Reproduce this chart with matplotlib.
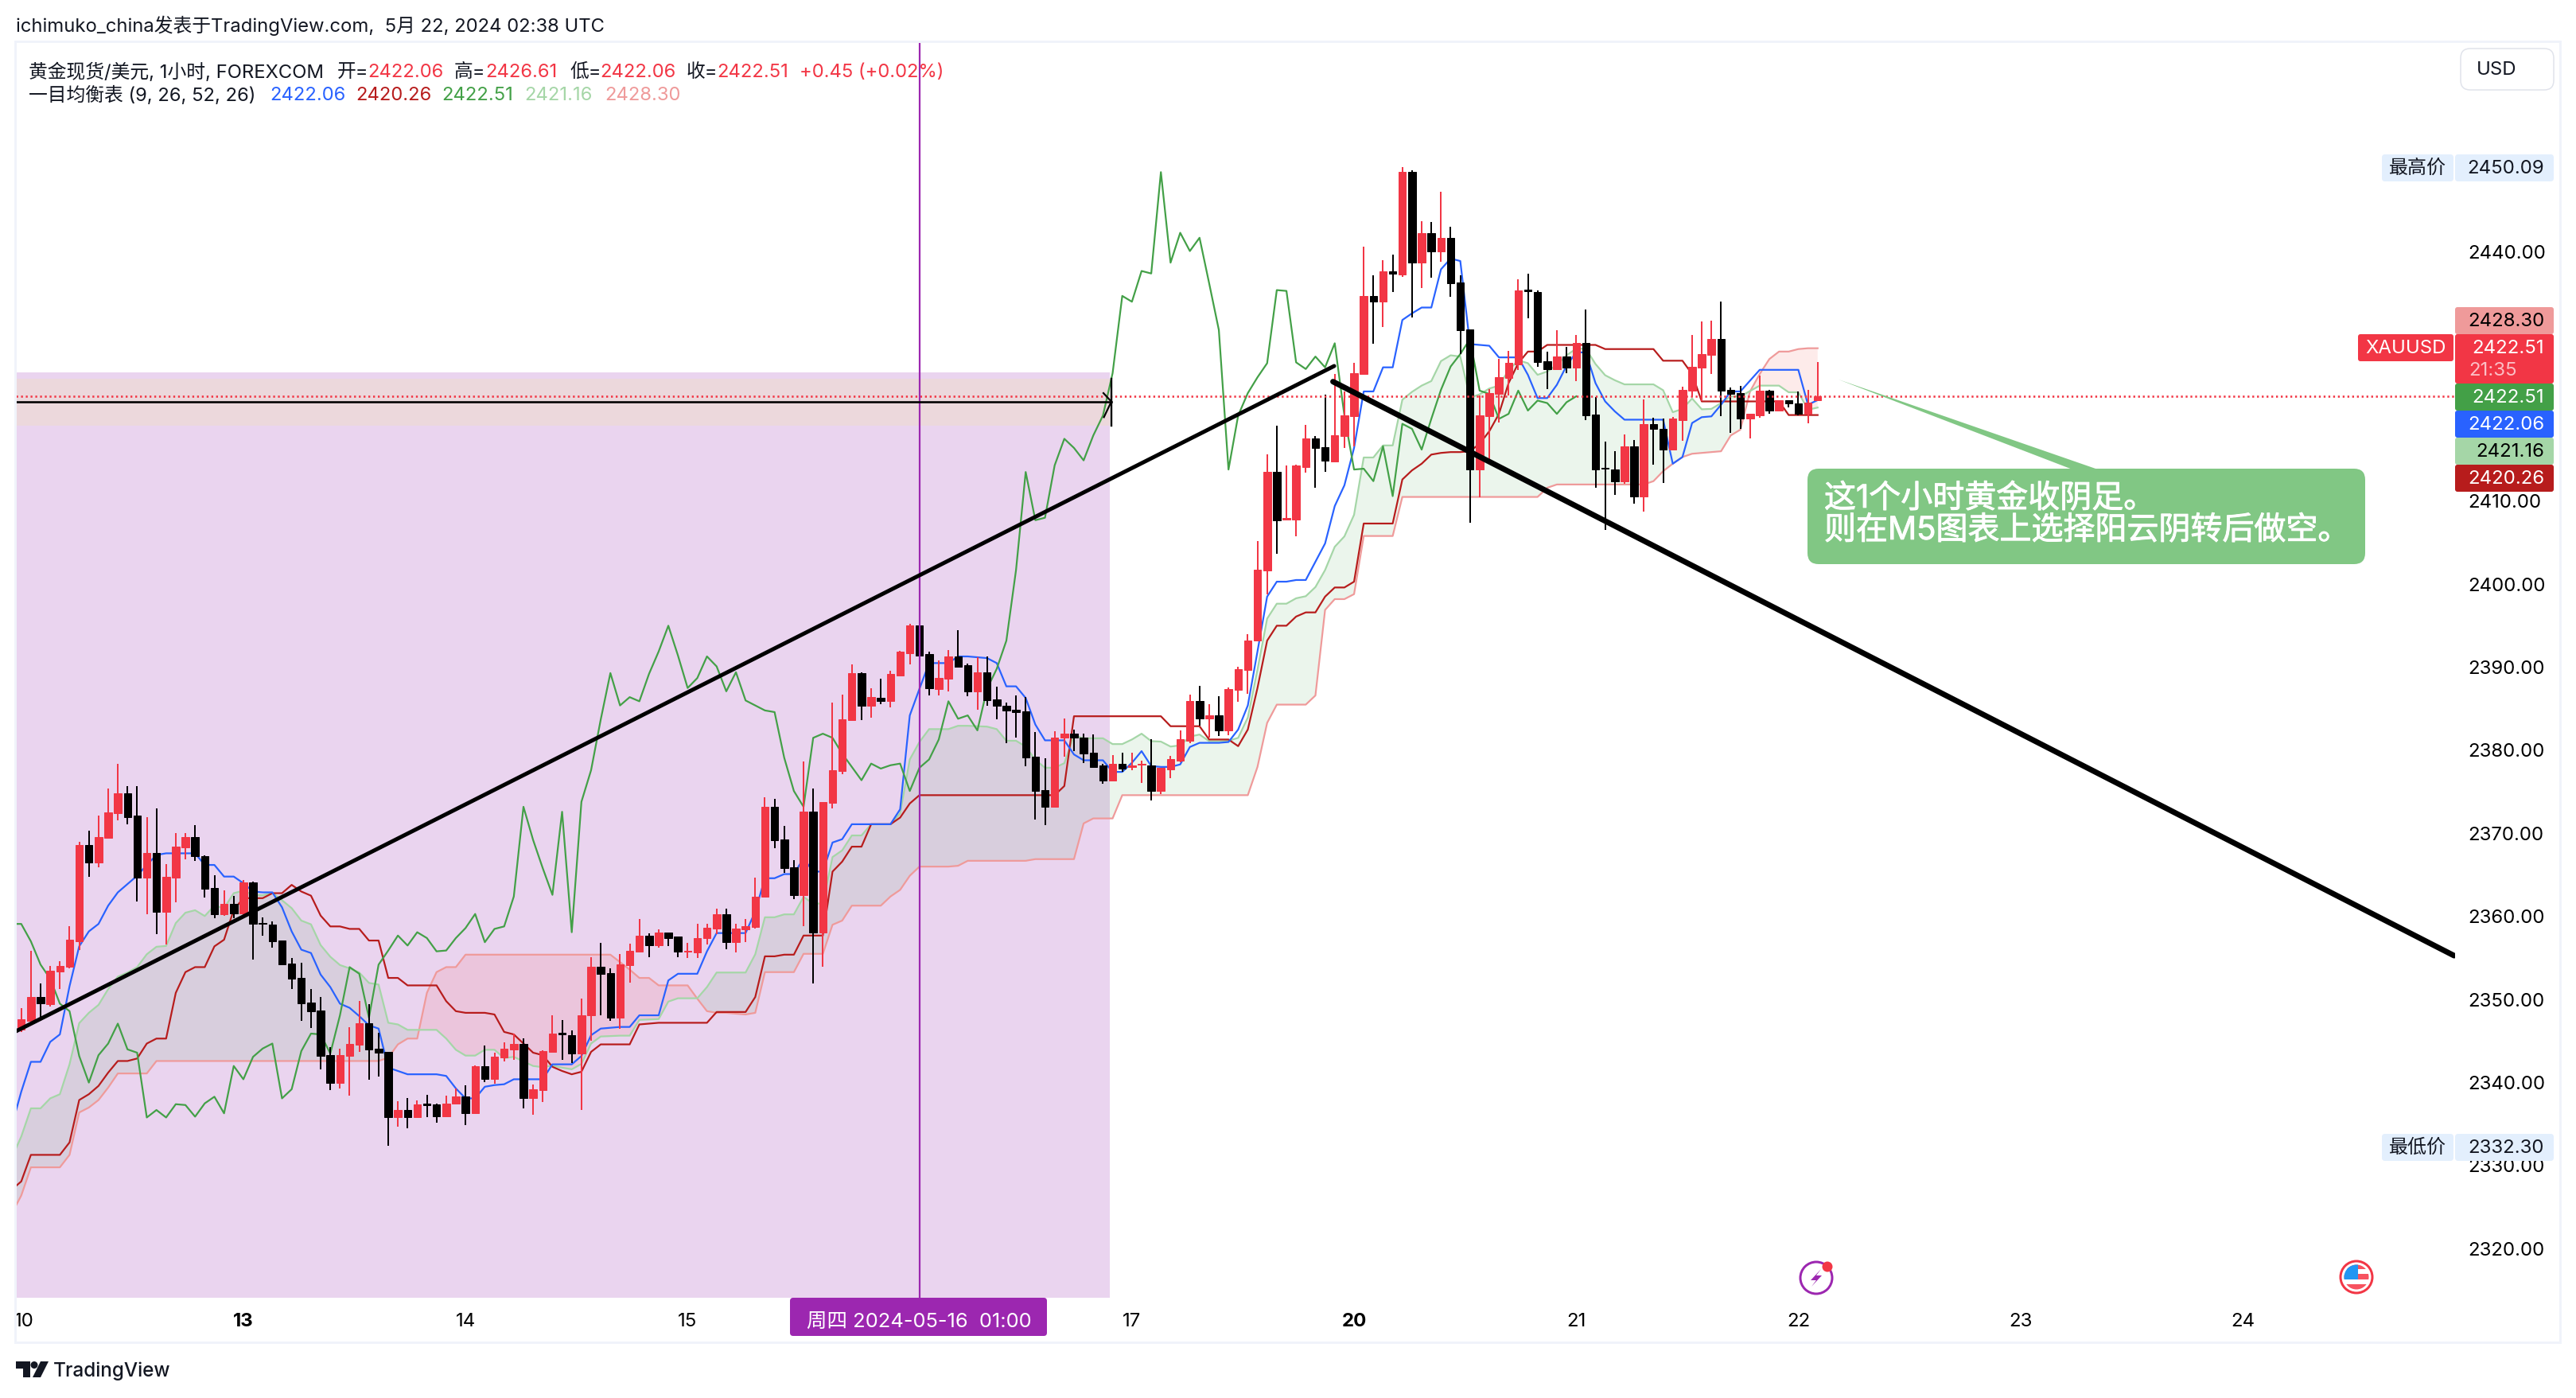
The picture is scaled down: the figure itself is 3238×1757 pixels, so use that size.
import numpy as np
import matplotlib
matplotlib.use('Agg')
import matplotlib.pyplot as plt
import matplotlib.patheffects as pe
from matplotlib.patches import Rectangle, FancyBboxPatch, Polygon, Circle

plt.rcParams['font.family'] = ['Inter', 'Noto Sans CJK SC', 'DejaVu Sans']

# hourly candles of XAUUSD, bar 0 is the first bar of the 10th
OPEN = [2346.3, 2347.3, 2350.2, 2349.3, 2353.3, 2353.8, 2356.9, 2368.5, 2366.4, 2369.4,
        2372.3, 2374.7, 2372.0, 2364.6, 2367.5, 2360.5, 2364.6, 2368.2, 2369.5, 2367.2,
        2363.3, 2360.2, 2361.4, 2360.3, 2364.0, 2359.1, 2358.9, 2357.0, 2354.2, 2352.5,
        2349.5, 2348.6, 2343.2, 2339.9, 2343.1, 2344.5, 2347.0, 2344.0, 2343.6, 2335.7,
        2336.6, 2335.7, 2337.4, 2337.3, 2335.8, 2337.4, 2338.2, 2336.2, 2341.9, 2340.3,
        2342.9, 2343.9, 2344.6, 2338.0, 2339.0, 2343.6, 2345.9, 2345.6, 2343.4, 2348.0,
        2353.8, 2353.1, 2347.7, 2354.0, 2355.7, 2357.6, 2356.4, 2358.0, 2357.5, 2355.7,
        2355.6, 2357.3, 2358.4, 2360.2, 2356.8, 2358.3, 2358.6, 2362.3, 2373.1, 2369.2,
        2365.8, 2362.5, 2372.5, 2358.0, 2373.6, 2377.4, 2383.5, 2389.2, 2385.3, 2386.2,
        2385.8, 2388.9, 2391.6, 2394.9, 2391.5, 2387.3, 2388.5, 2391.2, 2390.1, 2387.0,
        2389.3, 2386.0, 2385.3, 2384.8, 2384.6, 2379.1, 2375.1, 2373.1, 2381.4, 2381.9,
        2381.4, 2379.6, 2378.1, 2376.3, 2378.3, 2377.9, 2378.2, 2378.1, 2375.0, 2377.6,
        2378.7, 2381.0, 2385.8, 2383.7, 2384.1, 2382.3, 2387.2, 2389.6, 2393.1, 2401.5,
        2413.4, 2407.7, 2407.7, 2414.0, 2417.4, 2416.4, 2414.7, 2417.7, 2420.1, 2425.2,
        2434.6, 2433.9, 2437.6, 2437.2, 2449.5, 2438.6, 2442.2, 2440.0, 2441.6, 2436.2,
        2430.6, 2413.7, 2420.1, 2422.8, 2424.7, 2426.4, 2435.4, 2435.1, 2426.7, 2425.8,
        2427.3, 2426.0, 2428.9, 2420.3, 2413.9, 2413.7, 2412.3, 2416.5, 2410.5, 2419.2,
        2418.6, 2416.1, 2419.6, 2423.2, 2426.0, 2427.5, 2429.4, 2423.3, 2422.9, 2419.8,
        2420.2, 2423.2, 2420.8, 2422.0, 2421.7, 2420.4, 2422.06]
HIGH = [2348.9, 2355.8, 2351.8, 2353.9, 2354.5, 2358.7, 2368.9, 2370.2, 2372.0, 2375.3,
        2378.3, 2375.6, 2375.6, 2371.9, 2372.9, 2366.2, 2369.9, 2369.9, 2370.9, 2367.3,
        2364.9, 2363.0, 2362.4, 2364.3, 2364.1, 2359.8, 2359.3, 2357.0, 2354.9, 2354.3,
        2351.2, 2350.2, 2344.2, 2344.0, 2346.6, 2349.7, 2349.3, 2345.9, 2343.6, 2337.7,
        2338.0, 2337.8, 2338.4, 2337.4, 2338.3, 2339.2, 2339.6, 2342.0, 2344.4, 2343.5,
        2344.7, 2345.8, 2345.2, 2339.7, 2343.8, 2348.0, 2347.4, 2346.2, 2350.0, 2355.0,
        2356.7, 2353.7, 2355.4, 2356.6, 2359.6, 2357.9, 2358.3, 2358.0, 2357.5, 2356.7,
        2359.0, 2359.0, 2360.8, 2360.8, 2359.0, 2359.6, 2364.6, 2374.2, 2374.1, 2370.8,
        2366.7, 2378.6, 2375.3, 2373.7, 2385.6, 2386.6, 2390.2, 2389.3, 2387.4, 2388.5,
        2389.5, 2391.9, 2395.1, 2397.2, 2391.8, 2390.7, 2392.0, 2394.4, 2390.3, 2391.1,
        2391.2, 2387.6, 2385.6, 2386.5, 2386.3, 2382.1, 2378.9, 2382.2, 2383.7, 2382.4,
        2381.9, 2381.8, 2378.3, 2379.3, 2379.6, 2379.6, 2378.7, 2381.2, 2377.8, 2379.2,
        2382.3, 2386.6, 2387.7, 2385.5, 2386.4, 2387.5, 2390.0, 2393.9, 2405.1, 2415.5,
        2419.0, 2414.2, 2414.3, 2419.1, 2417.7, 2422.7, 2425.2, 2423.1, 2426.5, 2440.5,
        2437.1, 2438.9, 2439.6, 2450.09, 2449.7, 2443.6, 2443.5, 2447.1, 2442.9, 2437.1,
        2430.6, 2422.6, 2423.4, 2427.0, 2428.0, 2436.6, 2437.3, 2435.3, 2427.9, 2430.5,
        2428.5, 2429.9, 2433.0, 2422.4, 2417.1, 2415.9, 2417.9, 2417.3, 2422.1, 2419.9,
        2419.8, 2420.0, 2423.7, 2429.9, 2431.5, 2431.6, 2433.9, 2423.6, 2423.8, 2420.4,
        2425.0, 2423.3, 2422.0, 2422.0, 2423.1, 2423.3, 2426.61]
LOW = [2346.0, 2347.2, 2347.3, 2349.1, 2351.2, 2353.7, 2355.9, 2364.7, 2365.8, 2369.4,
       2371.5, 2371.0, 2361.7, 2360.2, 2357.8, 2356.5, 2361.6, 2366.8, 2366.6, 2362.2,
       2359.7, 2360.0, 2359.7, 2359.8, 2354.7, 2357.6, 2356.1, 2354.1, 2351.2, 2347.3,
       2346.5, 2341.5, 2339.0, 2339.2, 2338.3, 2343.6, 2340.2, 2340.6, 2332.3, 2334.6,
       2334.4, 2335.6, 2335.7, 2335.1, 2335.7, 2337.3, 2334.8, 2336.2, 2340.0, 2339.8,
       2342.4, 2342.6, 2336.8, 2336.0, 2337.6, 2343.6, 2342.6, 2342.3, 2336.6, 2344.9,
       2348.0, 2347.3, 2346.4, 2351.9, 2355.6, 2355.0, 2356.1, 2356.3, 2355.0, 2354.9,
       2354.9, 2356.5, 2357.8, 2356.0, 2355.6, 2356.8, 2358.4, 2362.3, 2368.1, 2365.1,
       2362.0, 2358.7, 2351.8, 2353.8, 2372.9, 2377.0, 2383.5, 2383.5, 2383.8, 2385.5,
       2385.1, 2388.9, 2390.2, 2389.5, 2386.5, 2386.5, 2387.0, 2390.0, 2386.4, 2384.8,
       2385.3, 2383.6, 2380.8, 2381.4, 2378.0, 2371.6, 2370.9, 2373.1, 2379.1, 2379.8,
       2378.4, 2377.8, 2375.9, 2376.3, 2377.3, 2377.5, 2376.0, 2373.9, 2374.6, 2376.5,
       2378.5, 2380.8, 2382.9, 2381.4, 2381.6, 2381.7, 2385.7, 2386.7, 2393.1, 2398.7,
       2403.6, 2407.7, 2405.7, 2413.3, 2411.5, 2413.4, 2414.7, 2416.3, 2416.5, 2425.2,
       2428.8, 2430.9, 2435.1, 2436.9, 2432.0, 2435.5, 2436.8, 2438.7, 2434.5, 2427.6,
       2407.3, 2410.4, 2414.7, 2419.4, 2422.6, 2425.7, 2431.9, 2426.1, 2423.4, 2425.8,
       2425.3, 2424.3, 2419.6, 2411.5, 2406.4, 2410.6, 2412.0, 2409.6, 2408.6, 2414.3,
       2412.1, 2416.1, 2417.2, 2422.4, 2421.9, 2425.2, 2420.1, 2418.1, 2418.6, 2417.4,
       2419.9, 2420.4, 2420.7, 2421.2, 2420.2, 2419.3, 2422.06]
CLOSE = [2347.5, 2350.2, 2349.4, 2353.4, 2353.9, 2357.1, 2368.5, 2366.4, 2369.5, 2372.4,
         2374.7, 2371.9, 2364.6, 2367.5, 2360.5, 2364.7, 2368.3, 2369.5, 2367.2, 2363.2,
         2360.2, 2361.4, 2360.3, 2364.0, 2359.0, 2359.0, 2356.9, 2354.1, 2352.4, 2349.4,
         2348.5, 2343.1, 2339.9, 2343.2, 2344.6, 2347.0, 2343.9, 2343.5, 2335.7, 2336.6,
         2335.7, 2337.3, 2337.2, 2335.8, 2337.4, 2338.2, 2336.2, 2341.9, 2340.3, 2343.0,
         2344.0, 2344.6, 2338.0, 2339.1, 2343.7, 2345.8, 2345.7, 2343.4, 2348.0, 2353.8,
         2353.0, 2347.7, 2354.1, 2355.8, 2357.6, 2356.4, 2358.0, 2357.3, 2355.7, 2355.8,
         2357.3, 2358.5, 2360.2, 2356.8, 2358.4, 2358.7, 2362.3, 2373.1, 2369.1, 2365.7,
         2362.5, 2372.5, 2358.0, 2373.7, 2377.5, 2383.6, 2389.2, 2385.3, 2386.3, 2385.8,
         2389.1, 2391.8, 2394.9, 2391.3, 2387.4, 2388.6, 2391.2, 2390.0, 2387.0, 2389.3,
         2385.9, 2385.3, 2384.7, 2384.5, 2379.0, 2375.0, 2373.1, 2381.4, 2381.9, 2381.4,
         2379.5, 2377.9, 2376.3, 2378.3, 2377.7, 2378.1, 2378.3, 2375.0, 2377.8, 2378.8,
         2381.2, 2385.8, 2383.7, 2384.1, 2382.3, 2387.3, 2389.7, 2393.1, 2401.6, 2413.4,
         2407.6, 2407.9, 2414.2, 2417.4, 2416.3, 2414.8, 2417.8, 2420.2, 2425.3, 2434.6,
         2433.9, 2437.6, 2437.3, 2449.5, 2438.6, 2442.2, 2440.0, 2441.6, 2436.1, 2430.5,
         2413.7, 2420.2, 2422.9, 2424.8, 2426.5, 2435.3, 2435.2, 2426.6, 2425.8, 2427.3,
         2426.0, 2428.9, 2420.2, 2413.7, 2413.8, 2412.3, 2416.5, 2410.5, 2419.2, 2418.6,
         2416.1, 2419.8, 2423.3, 2426.1, 2427.6, 2429.4, 2423.2, 2422.8, 2419.8, 2420.4,
         2423.2, 2420.8, 2422.0, 2421.7, 2420.4, 2421.8, 2422.51]

# ichimoku lines, these start one bar before the first candle
CONVERSION = [2334.6,
              2338.8, 2342.4, 2342.4, 2344.8, 2345.7, 2351.5, 2356.3, 2358.1, 2359.0, 2361.2,
              2362.8, 2363.8, 2364.8, 2366.1, 2367.3, 2367.5, 2367.5, 2367.5, 2367.5, 2366.1,
              2366.1, 2364.7, 2364.7, 2363.9, 2362.9, 2362.8, 2362.8, 2361.0, 2358.1, 2355.9,
              2355.5, 2352.9, 2351.4, 2349.4, 2348.9, 2347.9, 2346.8, 2346.4, 2341.7, 2341.3,
              2340.9, 2340.9, 2340.9, 2340.9, 2340.7, 2339.2, 2338.0, 2338.0, 2339.4, 2339.6,
              2339.7, 2340.3, 2340.3, 2340.3, 2340.3, 2342.1, 2342.1, 2342.1, 2343.1, 2345.6,
              2346.4, 2346.5, 2346.6, 2346.6, 2348.0, 2348.0, 2348.0, 2352.2, 2353.0, 2353.0,
              2353.0, 2355.7, 2357.9, 2357.9, 2357.9, 2357.9, 2360.5, 2364.5, 2364.5, 2365.0,
              2365.0, 2366.9, 2365.3, 2365.3, 2368.8, 2369.2, 2371.0, 2371.0, 2371.0, 2371.0,
              2371.0, 2372.8, 2384.1, 2387.3, 2390.4, 2390.4, 2390.4, 2391.2, 2391.2, 2391.1,
              2391.0, 2390.4, 2387.6, 2387.6, 2386.2, 2383.0, 2381.1, 2381.1, 2381.1, 2379.4,
              2378.7, 2378.7, 2378.7, 2377.3, 2377.3, 2378.4, 2379.8, 2378.0, 2377.9, 2377.9,
              2378.2, 2380.3, 2380.8, 2380.8, 2380.8, 2380.9, 2382.4, 2385.3, 2391.8, 2398.4,
              2400.2, 2400.2, 2400.4, 2400.4, 2402.6, 2404.8, 2409.3, 2411.8, 2416.3, 2423.1,
              2423.1, 2426.0, 2426.0, 2431.7, 2432.5, 2433.2, 2433.2, 2437.8, 2439.1, 2438.8,
              2428.8, 2428.7, 2428.6, 2427.2, 2427.2, 2427.2, 2425.1, 2422.3, 2422.3, 2423.9,
              2426.2, 2427.8, 2427.8, 2424.1, 2421.9, 2420.7, 2419.7, 2419.7, 2419.7, 2419.7,
              2419.7, 2414.4, 2415.2, 2419.3, 2420.0, 2420.1, 2421.5, 2423.1, 2423.1, 2424.4,
              2425.7, 2425.7, 2425.7, 2425.7, 2425.7, 2421.5, 2422.06]
BASE = [2327.0,
        2328.0, 2331.2, 2331.2, 2331.2, 2331.2, 2332.7, 2337.8, 2338.5, 2339.5, 2341.1,
        2342.5, 2342.5, 2342.8, 2344.6, 2345.2, 2345.2, 2350.7, 2353.2, 2353.8, 2353.8,
        2356.3, 2357.1, 2360.7, 2362.1, 2362.1, 2362.1, 2362.7, 2362.7, 2363.7, 2362.9,
        2362.4, 2360.0, 2358.7, 2358.7, 2358.4, 2358.4, 2357.0, 2357.0, 2352.5, 2352.5,
        2351.6, 2351.6, 2351.6, 2351.6, 2349.7, 2348.5, 2348.3, 2348.3, 2348.3, 2348.1,
        2346.0, 2345.7, 2344.6, 2343.5, 2343.2, 2341.8, 2341.3, 2340.9, 2341.2, 2343.6,
        2344.5, 2344.5, 2344.5, 2344.5, 2346.9, 2347.0, 2347.1, 2347.1, 2347.1, 2347.1,
        2347.1, 2347.1, 2348.4, 2348.4, 2348.4, 2348.4, 2350.2, 2355.1, 2355.1, 2355.3,
        2355.3, 2357.6, 2357.6, 2357.6, 2365.3, 2366.5, 2368.3, 2368.3, 2371.0, 2371.0,
        2371.0, 2371.8, 2373.5, 2374.5, 2374.5, 2374.5, 2374.5, 2374.5, 2374.5, 2374.5,
        2374.5, 2374.5, 2374.5, 2374.5, 2374.5, 2374.5, 2374.5, 2374.5, 2375.6, 2384.0,
        2384.0, 2384.0, 2384.0, 2384.0, 2384.0, 2384.0, 2384.0, 2384.0, 2384.0, 2382.8,
        2382.8, 2382.8, 2382.8, 2381.2, 2381.2, 2381.2, 2380.4, 2382.4, 2387.4, 2393.1,
        2394.9, 2394.9, 2396.0, 2396.5, 2396.5, 2398.4, 2399.5, 2399.5, 2400.2, 2407.2,
        2407.2, 2407.2, 2407.2, 2412.5, 2413.6, 2414.4, 2415.5, 2415.7, 2415.8, 2415.8,
        2415.9, 2416.8, 2418.3, 2420.4, 2424.1, 2426.5, 2427.9, 2427.9, 2428.7, 2428.7,
        2428.7, 2428.7, 2428.7, 2428.7, 2428.2, 2428.2, 2428.2, 2428.2, 2428.2, 2428.2,
        2426.8, 2426.8, 2426.8, 2425.2, 2421.9, 2421.9, 2421.9, 2421.9, 2421.9, 2421.9,
        2421.9, 2421.9, 2421.9, 2420.26, 2420.26, 2420.26, 2420.26]
LEAD_A = [2330.8,
          2333.4, 2336.8, 2336.8, 2338.0, 2338.5, 2342.1, 2347.05, 2348.3, 2349.25, 2351.15,
          2352.65, 2353.15, 2353.8, 2355.35, 2356.25, 2356.35, 2359.1, 2360.35, 2360.65, 2359.95,
          2361.2, 2360.9, 2362.7, 2363.0, 2362.5, 2362.45, 2362.75, 2361.85, 2360.9, 2359.4,
          2358.95, 2356.45, 2355.05, 2354.05, 2353.65, 2353.15, 2351.9, 2351.7, 2347.1, 2346.9,
          2346.25, 2346.25, 2346.25, 2346.25, 2345.2, 2343.85, 2343.15, 2343.15, 2343.85, 2343.85,
          2342.85, 2343.0, 2342.45, 2341.9, 2341.75, 2341.95, 2341.7, 2341.5, 2342.15, 2344.6,
          2345.45, 2345.5, 2345.55, 2345.55, 2347.45, 2347.5, 2347.55, 2349.65, 2350.05, 2350.05,
          2350.05, 2351.4, 2353.15, 2353.15, 2353.15, 2353.15, 2355.35, 2359.8, 2359.8, 2360.15,
          2360.15, 2362.25, 2361.45, 2361.45, 2367.05, 2367.85, 2369.65, 2369.65, 2371.0, 2371.0,
          2371.0, 2372.3, 2378.8, 2380.9, 2382.45, 2382.45, 2382.45, 2382.85, 2382.85, 2382.8,
          2382.75, 2382.45, 2381.05, 2381.05, 2380.35, 2378.75, 2377.8, 2377.8, 2378.35, 2381.7,
          2381.35, 2381.35, 2381.35, 2380.65, 2380.65, 2381.2, 2381.9, 2381.0, 2380.95, 2380.35,
          2380.5, 2381.55, 2381.8, 2381.0, 2381.0, 2381.05, 2381.4, 2383.85, 2389.6, 2395.75,
          2397.55, 2397.55, 2398.2, 2398.45, 2399.55, 2401.6, 2404.4, 2405.65, 2408.25, 2415.15,
          2415.15, 2416.6, 2416.6, 2422.1, 2423.05, 2423.8, 2424.35, 2426.75, 2427.45, 2427.3,
          2422.35, 2422.75, 2423.45, 2423.8, 2425.65, 2426.85, 2426.5, 2425.1, 2425.5, 2426.3,
          2427.45, 2428.25, 2428.25, 2426.4, 2425.05, 2424.45, 2423.95, 2423.95, 2423.95, 2423.95,
          2423.25, 2420.6, 2421.0, 2422.25, 2420.95, 2421.0, 2421.7, 2422.5, 2422.5, 2423.15,
          2423.8, 2423.8, 2423.8, 2423.0, 2423.0, 2420.9, 2421.16]
LEAD_B = [2324.1,
          2326.3, 2329.7, 2329.7, 2329.7, 2329.7, 2331.2, 2336.3, 2336.9, 2337.8, 2339.3,
          2341.0, 2341.0, 2341.0, 2341.0, 2342.5, 2342.5, 2342.5, 2342.5, 2342.5, 2342.5,
          2342.5, 2342.5, 2342.5, 2342.5, 2342.5, 2342.5, 2342.5, 2342.5, 2342.5, 2342.5,
          2342.5, 2342.5, 2342.5, 2342.5, 2342.5, 2342.5, 2342.5, 2342.5, 2342.9, 2344.5,
          2345.2, 2345.2, 2350.7, 2353.2, 2353.8, 2353.8, 2355.3, 2355.3, 2355.3, 2355.3,
          2355.3, 2355.3, 2355.3, 2355.3, 2355.3, 2355.3, 2355.3, 2355.3, 2355.3, 2355.3,
          2355.3, 2355.3, 2354.4, 2353.5, 2352.5, 2352.5, 2351.6, 2351.6, 2351.6, 2351.6,
          2350.0, 2348.5, 2348.3, 2348.3, 2348.2, 2348.1, 2348.3, 2353.2, 2353.2, 2353.2,
          2353.2, 2355.4, 2355.4, 2355.4, 2358.9, 2359.4, 2361.2, 2361.2, 2361.2, 2361.2,
          2362.3, 2363.1, 2364.8, 2365.9, 2365.9, 2365.9, 2365.9, 2366.0, 2366.6, 2366.6,
          2366.6, 2366.6, 2366.6, 2366.6, 2366.6, 2366.8, 2366.8, 2366.8, 2366.8, 2366.8,
          2371.1, 2371.7, 2371.7, 2371.7, 2374.5, 2374.5, 2374.5, 2374.5, 2374.5, 2374.5,
          2374.5, 2374.5, 2374.5, 2374.5, 2374.5, 2374.5, 2374.5, 2374.5, 2377.9, 2383.2,
          2385.4, 2385.4, 2385.4, 2385.4, 2386.5, 2396.8, 2398.1, 2398.1, 2398.7, 2405.7,
          2405.7, 2405.7, 2405.7, 2410.4, 2410.4, 2410.4, 2410.4, 2410.4, 2410.4, 2410.4,
          2410.4, 2410.4, 2410.4, 2410.4, 2410.4, 2410.4, 2410.4, 2410.4, 2411.5, 2411.9,
          2411.9, 2411.9, 2411.9, 2411.9, 2411.9, 2411.9, 2411.9, 2411.9, 2411.9, 2412.3,
          2413.5, 2414.4, 2415.2, 2415.6, 2415.7, 2415.8, 2415.9, 2417.8, 2418.5, 2423.1,
          2425.2, 2427.0, 2427.9, 2427.9, 2428.2, 2428.3, 2428.30]

# the lagging span is the close moved back 25 bars
LAGGING = CLOSE[24:]

# the 16 sits under the purple date box and the other hidden prices under the tags
DAY_BARS = [0.3, 23, 46, 69, 115, 138, 161, 184, 207, 230]
DAY_LABELS = ['10', '13', '14', '15', '17', '20', '21', '22', '23', '24']
PRICE_TICKS = [2320, 2330, 2340, 2350, 2360, 2370, 2380, 2390, 2400, 2410, 2440]
LAST_PRICE = 2422.51
BOX_TOP, ZONE_TOP, ZONE_BOTTOM, ZONE_LINE = 2425.39, 2424.63, 2418.98, 2421.88
RISE_LINE = ([-0.55, 135.94], [2346.08, 2426.16])
FALL_LINE = ([135.82, 251.9], [2424.28, 2355.18])

RED = '#F23645'
BLUE = '#2962FF'
DARK_RED = '#B71C1C'
GREEN = '#43A047'
LIGHT_GREEN = '#A5D6A7'
LIGHT_RED = '#EF9A9A'
PURPLE = '#9C27B0'
INK = '#131722'
FRAME = '#F0F3FA'
TAG_BLUE = '#E3EFFD'
CALLOUT = '#81C784'
W, H = 3238, 1758
TXT = 17.3  # 24 px at dpi 100
HEAD = 17.15


def px(v):
    # line widths below are given in pixels of the final picture
    return v * 0.72


fig = plt.figure(figsize=(W / 100, H / 100), dpi=100, facecolor='white')
ax = fig.add_axes([20 / W, (H - 1632) / H, 3066 / W, 1579 / H])
ax.set_xlim(-0.552, 252.0)
ax.set_ylim(2314.0, 2465.24)
for s in ax.spines.values():
    s.set_visible(False)

bars = np.arange(len(OPEN))
ind_bars = np.arange(-1, len(OPEN))
op, hi, lo, cl = map(np.array, (OPEN, HIGH, LOW, CLOSE))
lead_a, lead_b = np.array(LEAD_A), np.array(LEAD_B)

# purple box with the pale zone inside it
ax.add_patch(Rectangle((-0.552, 2314.0), 113.26, BOX_TOP - 2314.0, fc='#EAD4EF', ec='none', zorder=1))
ax.add_patch(Rectangle((-0.552, ZONE_BOTTOM), 113.26, ZONE_TOP - ZONE_BOTTOM, fc='#ECD8DC', ec='none', zorder=1.1))

# cloud
ax.fill_between(ind_bars, lead_a, lead_b, where=lead_a >= lead_b, interpolate=True,
                color=GREEN, alpha=0.1, lw=0, zorder=2)
ax.fill_between(ind_bars, lead_a, lead_b, where=lead_a <= lead_b, interpolate=True,
                color='#F44336', alpha=0.1, lw=0, zorder=2)
ax.plot(ind_bars, LEAD_B, color=LIGHT_RED, lw=px(2.2), zorder=3)
ax.plot(ind_bars, LEAD_A, color=LIGHT_GREEN, lw=px(2.2), zorder=3)
ax.plot(ind_bars, BASE, color=DARK_RED, lw=px(2.2), zorder=3)
ax.plot(ind_bars, CONVERSION, color=BLUE, lw=px(2.2), zorder=3)
ax.plot(np.arange(-1, len(LAGGING) - 1), LAGGING, color=GREEN, lw=px(2.2), zorder=3)

# candles, red is up here
colors = [RED if c >= o else '#000000' for o, c in zip(op, cl)]
ax.vlines(bars, lo, hi, colors=colors, lw=px(2), zorder=4)
ax.bar(bars, np.abs(cl - op), bottom=np.minimum(op, cl), width=0.78, color=colors,
       edgecolor=colors, linewidth=px(1), zorder=5)

ax.axhline(LAST_PRICE, color=RED, lw=px(2.6), ls=(0, (0.9, 1.4)), zorder=6)
ax.axvline(93, color=PURPLE, lw=px(2.2), zorder=6)

# drawings
ax.plot([-0.552, 112.87], [ZONE_LINE, ZONE_LINE], color='black', lw=px(2.6), zorder=7)
ax.plot([112.87, 112.87], [ZONE_BOTTOM, ZONE_TOP], color='black', lw=px(2.4), zorder=7)
ax.plot([112.05, 112.87, 112.1], [2422.9, ZONE_LINE, 2420.0], color='black', lw=px(2.2), zorder=7)
ax.plot(*RISE_LINE, color='black', lw=px(5), solid_capstyle='round', zorder=8)
ax.plot(*FALL_LINE, color='black', lw=px(7), solid_capstyle='round', zorder=8)

ax.yaxis.tick_right()
ax.set_yticks(PRICE_TICKS)
ax.set_yticklabels(['%.2f' % p for p in PRICE_TICKS])
ax.tick_params(axis='y', length=0, pad=12, labelsize=TXT, labelcolor='black')
ax.set_xticks(DAY_BARS)
ax.set_xticklabels(DAY_LABELS)
ax.tick_params(axis='x', length=0, pad=13, labelsize=TXT, labelcolor='black')
for lab in ax.get_xticklabels():
    if lab.get_text() in ('13', '20'):
        lab.set_fontweight('bold')

# overlay in picture pixels for the tradingview furniture
ov = fig.add_axes([0, 0, 1, 1], zorder=10)
ov.set_xlim(0, W)
ov.set_ylim(H, 0)
ov.axis('off')
ov.patch.set_alpha(0)


def box(x0, y0, x1, y1, color, r=5, ec='none', lw=0, z=11):
    ov.add_patch(FancyBboxPatch((x0 + r, y0 + r), x1 - x0 - 2 * r, y1 - y0 - 2 * r,
                                boxstyle='round,pad=%d,rounding_size=%d' % (r, r),
                                fc=color, ec=ec, lw=lw, zorder=z))


def label(x, y, s, color='black', ha='left', size=TXT, weight='normal', z=13):
    return ov.text(x, y, s, color=color, ha=ha, va='center', fontsize=size, fontweight=weight, zorder=z)


# hide what sticks out left of the chart, then the frame
ov.add_patch(Rectangle((0, 1640), 19, 50, fc='white', ec='none', zorder=10))
ov.add_patch(Rectangle((19, 53), 3199, 1635, fc='none', ec=FRAME, lw=px(3), zorder=11))

# header texts
label(20, 32, 'ichimuko_china发表于TradingView.com,  5月 22, 2024 02:38 UTC', INK, size=HEAD)
label(36, 91, '黄金现货/美元, 1小时, FOREXCOM', INK, size=HEAD)
for x, s in [(424, '开='), (571, '高='), (716, '低='), (863, '收=')]:
    label(x, 91, s, INK, size=HEAD)
for x, s in [(462, '2422.06'), (610, '2426.61'), (754, '2422.06'), (901, '2422.51'), (1005, '+0.45 (+0.02%)')]:
    label(x, 91, s, RED, size=HEAD)
label(36, 120, '一目均衡表 (9, 26, 52, 26)', INK, size=HEAD)
for x, s, c in [(339, '2422.06', BLUE), (447, '2420.26', DARK_RED), (555, '2422.51', GREEN),
                (659, '2421.16', LIGHT_GREEN), (760, '2428.30', LIGHT_RED)]:
    label(x, 120, s, c, size=HEAD)

# usd button
box(3093, 62, 3210, 114, 'white', r=12, ec='#E0E3EB', lw=px(1.5))
label(3113, 88, 'USD', INK)

# high and low tags
for y, name, val in [(195, '最高价', '2450.09'), (1426, '最低价', '2332.30')]:
    box(2994, y, 3084, y + 34, TAG_BLUE, r=4)
    box(3086, y, 3210, y + 34, TAG_BLUE, r=4)
    label(3039, y + 17, name, INK, ha='center')
    label(3198, y + 17, val, INK, ha='right')

# last value tags
box(3086, 387, 3210, 421, LIGHT_RED, r=3)
box(3086, 421, 3210, 483, RED, r=3)
box(2964, 421, 3084, 455, RED, r=3)
label(3024, 438, 'XAUUSD', 'white', ha='center')
label(3198, 404, '2428.30', 'black', ha='right')
label(3198, 438, '2422.51', 'white', ha='right')
label(3103, 466, '21:35', '#FBBFC5')
for y, s, c, tc in [(483, '2422.51', GREEN, 'white'), (517, '2422.06', BLUE, 'white'),
                    (551, '2421.16', LIGHT_GREEN, 'black'), (585, '2420.26', DARK_RED, 'white')]:
    box(3086, y, 3210, y + 34, c, r=3)
    label(3198, y + 17, s, tc, ha='right')

# crosshair date
box(993, 1632, 1316, 1680, PURPLE, r=4)
label(1155, 1661, '周四 2024-05-16  01:00', 'white', ha='center', size=18.4)

# callout
ov.add_patch(Polygon([(2311, 478), (2605, 591), (2637, 591)], fc=CALLOUT, ec='none', zorder=11))
box(2272, 590, 2973, 710, CALLOUT, r=14)
for y, s in [(628, '这1个小时黄金收阴足。'), (668, '则在M5图表上选择阳云阴转后做空。')]:
    t = label(2293, y, s, 'white', size=28.8)
    t.set_path_effects([pe.withStroke(linewidth=0.7, foreground='white')])

# event icons
ov.add_patch(Circle((2283, 1607), 20, fc='white', ec=PURPLE, lw=px(3), zorder=11))
ov.add_patch(Polygon([(2289, 1596), (2276, 1610), (2283, 1610), (2277, 1618), (2290, 1604), (2283, 1604)],
                     fc=PURPLE, ec='none', zorder=12))
ov.add_patch(Circle((2297, 1593), 6.5, fc=RED, ec='none', zorder=12))

ov.add_patch(Circle((2962, 1606), 20, fc='white', ec=RED, lw=px(3), zorder=11))
clip = Circle((2962, 1606), 15.5, transform=ov.transData)
for y0, y1, c in [(1590, 1596, '#F7525F'), (1602, 1609, '#F7525F'), (1615, 1622, '#F7525F')]:
    r = ov.add_patch(Rectangle((2946, y0), 32, y1 - y0, fc=c, ec='none', zorder=12))
    r.set_clip_path(clip)
r = ov.add_patch(Rectangle((2946, 1590), 18, 19, fc='#2196F3', ec='none', zorder=12.5))
r.set_clip_path(clip)

# tradingview mark
ov.add_patch(Polygon([(20, 1712), (38, 1712), (38, 1732), (29, 1732), (29, 1721), (20, 1721)], fc=INK, ec='none'))
ov.add_patch(Circle((43, 1716.5), 4.5, fc=INK, ec='none'))
ov.add_patch(Polygon([(51, 1712), (61, 1712), (51, 1732), (41, 1732)], fc=INK, ec='none'))
label(67, 1723, 'TradingView', INK, size=17.5, weight='medium')

fig.savefig('out.png', dpi=100, facecolor='white')
